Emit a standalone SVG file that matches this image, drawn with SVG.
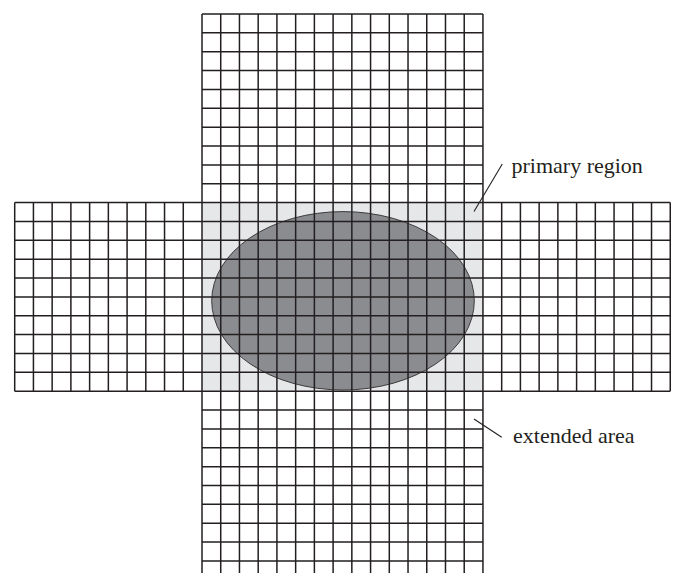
<svg xmlns="http://www.w3.org/2000/svg" width="677" height="573" viewBox="0 0 677 573">
<style>
.grid{fill:none;stroke:#231f20;stroke-width:1.5}
.lead{fill:none;stroke:#231f20;stroke-width:1.1}
.lbl{font-family:"Liberation Serif","Times New Roman",serif;font-size:22px;fill:#231f20}
</style>
<rect width="677" height="573" fill="#ffffff"/>
<g id="primary-region">
<rect x="202" y="202.6" width="280.95" height="188.6" fill="#e6e7e8"/>
<ellipse cx="343" cy="300.8" rx="131.3" ry="89.2" fill="#8b8c8f" stroke="#3c3a3b" stroke-width="1"/>
</g>
<g id="grid">
<path class="grid" d="M202 14H482.95M202 32.86H482.95M202 51.72H482.95M202 70.58H482.95M202 89.44H482.95M202 108.3H482.95M202 127.16H482.95M202 146.02H482.95M202 164.88H482.95M202 183.74H482.95
M14.7 202.6H670.25M14.7 221.46H670.25M14.7 240.32H670.25M14.7 259.18H670.25M14.7 278.04H670.25M14.7 296.9H670.25M14.7 315.76H670.25M14.7 334.62H670.25M14.7 353.48H670.25M14.7 372.34H670.25M14.7 391.2H670.25
M202 410.06H482.95M202 428.92H482.95M202 447.78H482.95M202 466.64H482.95M202 485.5H482.95M202 504.36H482.95M202 523.22H482.95M202 542.08H482.95M202 560.94H482.95
M14.7 202.6V391.2M33.43 202.6V391.2M52.16 202.6V391.2M70.89 202.6V391.2M89.62 202.6V391.2M108.35 202.6V391.2M127.08 202.6V391.2M145.81 202.6V391.2M164.54 202.6V391.2M183.27 202.6V391.2
M202 14V574M220.73 14V574M239.46 14V574M258.19 14V574M276.92 14V574M295.65 14V574M314.38 14V574M333.11 14V574M351.84 14V574M370.57 14V574M389.3 14V574M408.03 14V574M426.76 14V574M445.49 14V574M464.22 14V574M482.95 14V574
M501.68 202.6V391.2M520.41 202.6V391.2M539.14 202.6V391.2M557.87 202.6V391.2M576.6 202.6V391.2M595.33 202.6V391.2M614.06 202.6V391.2M632.79 202.6V391.2M651.52 202.6V391.2M670.25 202.6V391.2"/>
</g>
<g id="connectors">
<line class="lead" x1="474" y1="211.5" x2="502.3" y2="164"/>
<line class="lead" x1="474" y1="419" x2="501.7" y2="437.3"/>
</g>
<g id="label-primary">
<text class="lbl" x="511.5" y="173">primary region</text>
</g>
<g id="label-extended">
<text class="lbl" x="513" y="443">extended area</text>
</g>
</svg>
